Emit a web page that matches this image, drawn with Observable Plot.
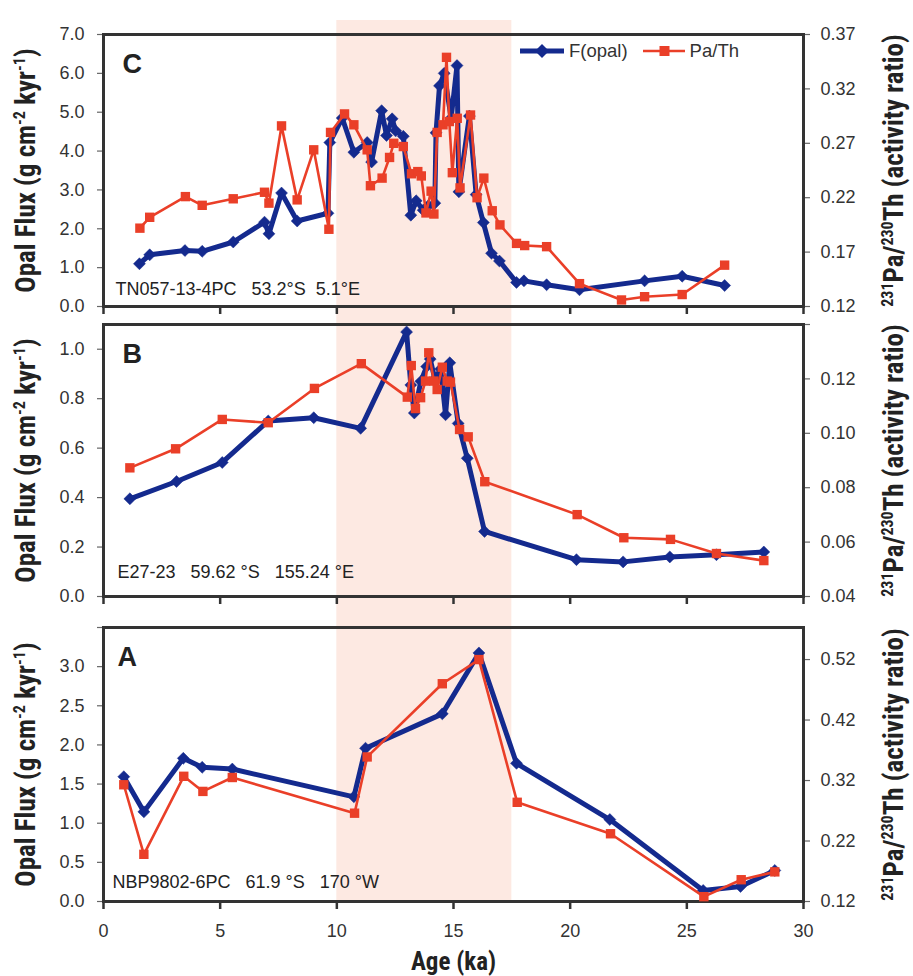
<!DOCTYPE html>
<html><head><meta charset="utf-8">
<script src="https://cdn.jsdelivr.net/npm/d3@7"></script>
<script src="https://cdn.jsdelivr.net/npm/@observablehq/plot@0.6"></script>
<style>
body{margin:0;background:#fff;}
#wrap{position:relative;width:913px;height:976px;overflow:hidden;}
#wrap svg{display:block;}
.legend{position:absolute;top:40px;left:519px;display:flex;align-items:center;font-family:"Liberation Sans",Arial,sans-serif;font-size:18.5px;color:#333;}
.legend span{margin:0 14px 0 4px;}
</style></head><body>
<div id="wrap"></div>
<script>
// ---------- data ----------
const xTicks = [0, 5, 10, 15, 20, 25, 30];
const xLabels = ["0", "5", "10", "15", "20", "25", "30"];
const shadeStart = 10, shadeEnd = 17.5;

// Panel C : TN057-13-4PC
const cOpalAge = [1.54, 1.98, 3.49, 4.23, 5.56, 6.90, 7.09, 7.63, 8.30, 9.62, 9.70, 10.23, 10.73, 11.30, 11.49, 11.92, 12.13, 12.37, 12.52, 12.85, 13.17, 13.40, 13.70, 13.90, 14.20, 14.25, 14.40, 14.60, 14.90, 15.15, 15.23, 15.68, 15.97, 16.28, 16.63, 16.97, 17.70, 18.02, 18.99, 20.40, 23.19, 24.80, 26.62];
const cOpal    = [1.10, 1.33, 1.44, 1.42, 1.66, 2.17, 1.87, 2.92, 2.20, 2.40, 4.22, 4.85, 3.97, 4.22, 3.72, 5.04, 4.40, 4.83, 4.52, 4.38, 2.35, 2.72, 2.48, 2.58, 2.66, 4.47, 5.68, 6.00, 4.85, 6.20, 2.95, 4.90, 2.88, 2.16, 1.37, 1.17, 0.62, 0.66, 0.56, 0.43, 0.66, 0.78, 0.54];
const cPaThAge = [1.56, 1.98, 3.51, 4.23, 5.56, 6.90, 7.09, 7.63, 8.30, 9.01, 9.66, 9.73, 10.33, 10.73, 11.30, 11.44, 11.94, 12.26, 12.44, 12.85, 13.20, 13.47, 13.62, 13.82, 14.04, 14.16, 14.30, 14.55, 14.70, 14.82, 14.95, 15.16, 15.28, 15.73, 16.01, 16.30, 16.66, 16.99, 17.70, 18.05, 18.99, 20.40, 22.20, 23.19, 24.80, 26.62];
const cPaTh    = [0.192, 0.202, 0.221, 0.213, 0.219, 0.225, 0.215, 0.286, 0.218, 0.264, 0.191, 0.280, 0.297, 0.287, 0.264, 0.231, 0.238, 0.257, 0.270, 0.267, 0.242, 0.244, 0.240, 0.206, 0.226, 0.205, 0.280, 0.287, 0.349, 0.290, 0.243, 0.293, 0.229, 0.296, 0.220, 0.238, 0.208, 0.195, 0.178, 0.176, 0.175, 0.141, 0.126, 0.129, 0.131, 0.158];
const cYTicks = [0, 1, 2, 3, 4, 5, 6, 7];
const cYLabels = ["0.0", "1.0", "2.0", "3.0", "4.0", "5.0", "6.0", "7.0"];
const cRTicks = [0.12, 0.17, 0.22, 0.27, 0.32, 0.37];
const cRLabels = ["0.12", "0.17", "0.22", "0.27", "0.32", "0.37"];

// Panel B : E27-23
const bOpalAge = [1.13, 3.13, 5.09, 7.06, 9.01, 11.02, 12.99, 13.17, 13.32, 13.60, 13.85, 14.00, 14.20, 14.45, 14.66, 14.84, 15.20, 15.59, 16.33, 20.27, 22.27, 24.27, 26.27, 28.30];
const bOpal    = [0.395, 0.465, 0.542, 0.710, 0.723, 0.680, 1.070, 0.855, 0.742, 0.870, 0.930, 0.960, 0.880, 0.920, 0.735, 0.945, 0.700, 0.559, 0.263, 0.149, 0.140, 0.160, 0.169, 0.180];
const bPaThAge = [1.13, 3.09, 5.09, 7.06, 9.04, 11.05, 13.02, 13.19, 13.37, 13.59, 13.80, 13.94, 14.16, 14.30, 14.52, 14.73, 14.87, 15.26, 15.63, 16.34, 20.30, 22.30, 24.30, 26.27, 28.30];
const bPaTh    = [0.0873, 0.0943, 0.1051, 0.1039, 0.1165, 0.1256, 0.1133, 0.1249, 0.1091, 0.1131, 0.1192, 0.1296, 0.1192, 0.1161, 0.1243, 0.1192, 0.1188, 0.1014, 0.0987, 0.0822, 0.0701, 0.0616, 0.0610, 0.0558, 0.0532];
const bYTicks = [0, 0.2, 0.4, 0.6, 0.8, 1.0];
const bYLabels = ["0.0", "0.2", "0.4", "0.6", "0.8", "1.0"];
const bRTicks = [0.04, 0.06, 0.08, 0.10, 0.12, 0.14];
const bRLabels = ["0.04", "0.06", "0.08", "0.10", "0.12", ""];

// Panel A : NBP9802-6PC
const aOpalAge = [0.87, 1.73, 3.42, 4.23, 5.52, 10.73, 11.23, 14.52, 16.09, 17.70, 21.70, 25.70, 27.30, 28.77];
const aOpal    = [1.594, 1.145, 1.829, 1.714, 1.692, 1.337, 1.958, 2.397, 3.175, 1.765, 1.047, 0.141, 0.192, 0.397];
const aPaThAge = [0.87, 1.73, 3.44, 4.26, 5.52, 10.76, 11.30, 14.52, 16.09, 17.73, 21.73, 25.73, 27.33, 28.77];
const aPaTh    = [0.313, 0.198, 0.327, 0.302, 0.325, 0.266, 0.359, 0.480, 0.520, 0.284, 0.232, 0.128, 0.156, 0.169];
const aYTicks = [0, 0.5, 1.0, 1.5, 2.0, 2.5, 3.0, 3.5];
const aYLabels = ["0.0", "0.5", "1.0", "1.5", "2.0", "2.5", "3.0", ""];
const aRTicks = [0.12, 0.22, 0.32, 0.42, 0.52];
const aRLabels = ["0.12", "0.22", "0.32", "0.42", "0.52"];

// ---------- drawing ----------
const BLUE = "#142a8e", RED = "#ea3f28", INK = "#333";
const NARROW = '"Liberation Sans Narrow","Roboto Condensed","DejaVu Sans Condensed","Liberation Sans",Arial,sans-serif';
const SANS = '"Liberation Sans",Arial,Helvetica,sans-serif';
const LEFT_TITLE = "Opal Flux (g cm-2 kyr-1)";
const RIGHT_TITLE = "231Pa/230Th (activity ratio)";

function panel(o) {
  const [y0, y1] = o.yDomain, [r0, r1] = o.rDomain;
  const toY = p => y0 + (p - r0) / (r1 - r0) * (y1 - y0);
  const blue = o.opalAge.map((a, i) => ({age: a, v: o.opal[i]}));
  const red = o.pathAge.map((a, i) => ({age: a, v: toY(o.path[i])}));
  const rPos = o.rTicks.map(toY);
  const rLab = new Map(rPos.map((p, i) => [p, o.rLabels[i]]));
  const yLab = new Map(o.yTicks.map((t, i) => [t, o.yLabels[i]]));
  const xLab = new Map(xTicks.map((t, i) => [t, xLabels[i]]));
  const marks = [
    Plot.rect([{x1: shadeStart, x2: shadeEnd}], {x1: "x1", x2: "x2", fill: "#fde9e2", insetTop: -o.shadeTop, insetBottom: -o.shadeBottom}),
    Plot.axisX({ticks: xTicks, tickSize: 8, tickPadding: 15, strokeWidth: 2.5, stroke: INK, fill: "#333",
      tickFormat: d => o.xText ? xLab.get(d) : "", label: null, fontSize: 18}),
    Plot.axisY({anchor: "left", ticks: o.yTicks, tickSize: 6, tickPadding: 13, strokeWidth: 1.2, stroke: "#666", fill: "#333",
      tickFormat: d => yLab.get(d), label: null, fontSize: 18}),
    Plot.axisY({anchor: "right", ticks: rPos, tickSize: 6, tickPadding: 11, strokeWidth: 1.2, stroke: "#666", fill: "#333",
      tickFormat: d => rLab.get(d), label: null, fontSize: 18}),
    Plot.frame({stroke: INK, strokeWidth: 3}),
    Plot.line(blue, {x: "age", y: "v", stroke: BLUE, strokeWidth: 5, strokeLinejoin: "round"}),
    Plot.dot(blue, {x: "age", y: "v", symbol: "diamond2", r: 5.4, fill: BLUE, stroke: BLUE, strokeWidth: 0.5}),
    Plot.line(red, {x: "age", y: "v", stroke: RED, strokeWidth: 2.6}),
    Plot.dot(red, {x: "age", y: "v", symbol: "square", r: 5.3, fill: RED}),
    Plot.text([o.letter], {frameAnchor: "top-left", dx: o.letterDx, dy: 19, lineAnchor: "top", textAnchor: "start", fontSize: 27, fontWeight: "bold", fontFamily: SANS, fill: "#222"}),
    Plot.text([o.core], {frameAnchor: "bottom-left", dx: o.coreDx, dy: o.coreDy, lineAnchor: "top", textAnchor: "start", fontSize: 18, fontFamily: SANS, fill: "#222"}),
    Plot.text([LEFT_TITLE], {frameAnchor: "left", dx: -77, rotate: -90, textAnchor: "middle", lineAnchor: "middle", fontSize: 27, fontWeight: "bold", fontFamily: NARROW, fill: "#222"}),
    Plot.text([RIGHT_TITLE], {frameAnchor: "right", dx: 91, rotate: -90, textAnchor: "middle", lineAnchor: "middle", fontSize: 27, fontWeight: "bold", fontFamily: NARROW, fill: "#222"})
  ];
  if (o.xTitle) marks.push(Plot.text([o.xTitle], {frameAnchor: "bottom", dy: 60, textAnchor: "middle", lineAnchor: "middle", fontSize: 25, fontWeight: "bold", fontFamily: NARROW, fill: "#222"}));
  const svg = Plot.plot({
    width: 913, height: o.height,
    marginLeft: 103, marginRight: 110, marginTop: o.marginTop, marginBottom: o.marginBottom,
    x: {domain: [0, 30]},
    y: {domain: o.yDomain},
    style: {fontFamily: SANS, fontSize: "18px", color: "#333", background: "transparent", overflow: "visible"},
    marks
  });
  supify(svg);
  return svg;
}

function supify(svg) {
  const ns = "http://www.w3.org/2000/svg";
  const build = (t, parts) => {
    t.textContent = "";
    let raised = false;
    for (const [s, sup] of parts) {
      const ts = document.createElementNS(ns, "tspan");
      ts.textContent = s;
      if (sup) { ts.setAttribute("font-size", "16"); if (!raised) ts.setAttribute("dy", "-10"); raised = true; }
      else if (raised) { ts.setAttribute("dy", "10"); raised = false; }
      t.appendChild(ts);
    }
  };
  svg.querySelectorAll("text").forEach(t => {
    if (t.textContent === LEFT_TITLE) build(t, [["Opal Flux (g cm", 0], ["-2", 1], [" kyr", 0], ["-1", 1], [")", 0]]);
    else if (t.textContent === RIGHT_TITLE) build(t, [["231", 1], ["Pa/", 0], ["230", 1], ["Th (activity ratio)", 0]]);
  });
}

const wrap = document.getElementById("wrap");
wrap.appendChild(panel({
  opalAge: cOpalAge, opal: cOpal, pathAge: cPaThAge, path: cPaTh,
  yDomain: [0, 7], yTicks: cYTicks, yLabels: cYLabels,
  rDomain: [0.12, 0.37], rTicks: cRTicks, rLabels: cRLabels,
  height: 316, marginTop: 34, marginBottom: 10, shadeTop: 14, shadeBottom: 10,
  letter: "C", letterDx: 19, core: "TN057-13-4PC\u00a0\u00a0\u00a053.2°S\u00a0\u00a05.1°E", coreDx: 12, coreDy: -24, xText: false
}));
wrap.appendChild(panel({
  opalAge: bOpalAge, opal: bOpal, pathAge: bPaThAge, path: bPaTh,
  yDomain: [0, 1.1], yTicks: bYTicks, yLabels: bYLabels,
  rDomain: [0.04, 0.14], rTicks: bRTicks, rLabels: bRLabels,
  height: 295, marginTop: 8, marginBottom: 15, shadeTop: 8, shadeBottom: 15,
  letter: "B", letterDx: 19, core: "E27-23\u00a0\u00a0\u00a059.62 °S\u00a0\u00a0\u00a0155.24 °E", coreDx: 14, coreDy: -31, xText: false
}));
wrap.appendChild(panel({
  opalAge: aOpalAge, opal: aOpal, pathAge: aPaThAge, path: aPaTh,
  yDomain: [0, 3.5], yTicks: aYTicks, yLabels: aYLabels,
  rDomain: [0.12, 0.573], rTicks: aRTicks, rLabels: aRLabels,
  height: 365, marginTop: 16, marginBottom: 75, shadeTop: 16, shadeBottom: 0,
  letter: "A", letterDx: 14, core: "NBP9802-6PC\u00a0\u00a0\u00a061.9 °S\u00a0\u00a0\u00a0170 °W", coreDx: 9, coreDy: -26, xText: true, xTitle: "Age (ka)"
}));

// legend (panel C, top right)
const leg = document.createElement("div");
leg.className = "legend";
leg.innerHTML =
  `<svg width="46" height="20"><line x1="1" y1="10" x2="45" y2="10" stroke="${BLUE}" stroke-width="5"/><path d="M23 3 L30 10 L23 17 L16 10 Z" fill="${BLUE}"/></svg><span>F(opal)</span>` +
  `<svg width="44" height="20"><line x1="1" y1="10" x2="43" y2="10" stroke="${RED}" stroke-width="2.6"/><rect x="17.5" y="5" width="10" height="10" fill="${RED}"/></svg><span>Pa/Th</span>`;
wrap.appendChild(leg);
</script>
</body></html>
